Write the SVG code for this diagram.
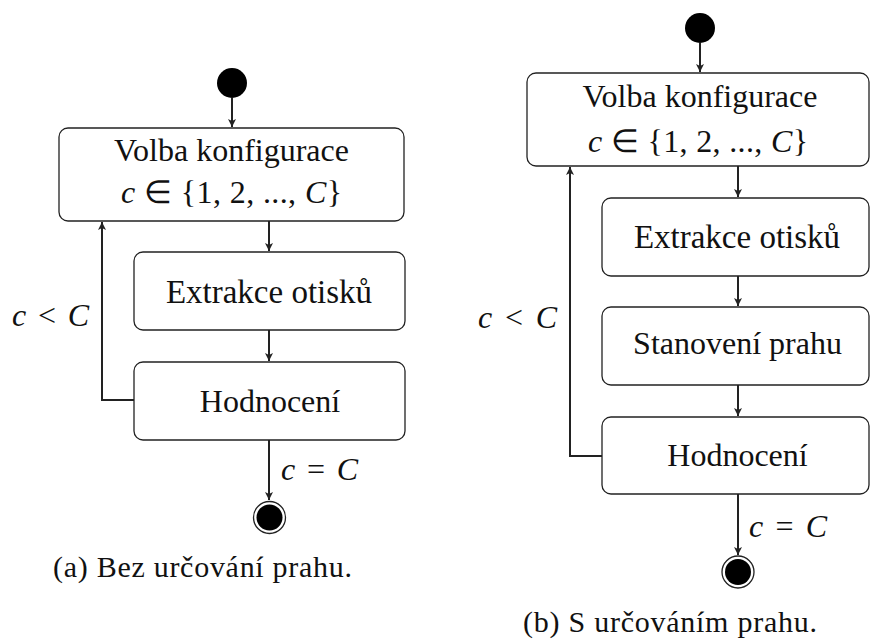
<svg xmlns="http://www.w3.org/2000/svg" width="871" height="639" viewBox="0 0 871 639" font-family="Liberation Serif">
<style>
.box{fill:#fff;stroke:#222;stroke-width:1.3}
.e{fill:none;stroke:#222;stroke-width:2}
</style>
<defs>
<marker id="ah" viewBox="0 0 10 10" refX="10" refY="5" markerWidth="8" markerHeight="8" markerUnits="userSpaceOnUse" orient="auto">
<path d="M0,0 L10,5 L0,10 L2.5,5 Z" fill="#222"/>
</marker>
</defs>
<g id="connectors">
<path class="e" d="M232,98 V127" marker-end="url(#ah)"/>
<path class="e" d="M269,221 V251" marker-end="url(#ah)"/>
<path class="e" d="M269,330 V361" marker-end="url(#ah)"/>
<path class="e" d="M134,400 H102 V222" marker-end="url(#ah)"/>
<path class="e" d="M269,440 V500" marker-end="url(#ah)"/>
<path class="e" d="M700,43 V72" marker-end="url(#ah)"/>
<path class="e" d="M738,166 V197" marker-end="url(#ah)"/>
<path class="e" d="M738,276 V306" marker-end="url(#ah)"/>
<path class="e" d="M738,385 V416" marker-end="url(#ah)"/>
<path class="e" d="M602,456 H570 V167" marker-end="url(#ah)"/>
<path class="e" d="M738,494 V555" marker-end="url(#ah)"/>
<text font-family="Liberation Serif" font-size="32" font-style="italic" fill="#111" x="12" y="326" textLength="77">c <tspan font-style="normal">&lt;</tspan> C</text>
<text font-family="Liberation Serif" font-size="32" font-style="italic" fill="#111" x="281" y="480" textLength="77">c <tspan font-style="normal">=</tspan> C</text>
<text font-family="Liberation Serif" font-size="32" font-style="italic" fill="#111" x="478" y="328" textLength="79">c <tspan font-style="normal">&lt;</tspan> C</text>
<text font-family="Liberation Serif" font-size="32" font-style="italic" fill="#111" x="749" y="537" textLength="78">c <tspan font-style="normal">=</tspan> C</text>
</g>
<g id="a-start"><circle cx="232" cy="83" r="15" fill="#000"/></g>
<g id="a-volba">
<rect class="box" x="59" y="128" width="345" height="93" rx="9"/>
<text font-family="Liberation Serif" font-size="32" fill="#111" text-anchor="middle" x="231.5" y="161">Volba konfigurace</text>
<text font-family="Liberation Serif" font-size="32" fill="#111" font-style="italic" x="121" y="203" textLength="221">c <tspan font-style="normal">∈ {1, 2, ..., </tspan>C<tspan font-style="normal">}</tspan></text>
</g>
<g id="a-extrakce">
<rect class="box" x="134" y="252" width="271" height="78" rx="9"/>
<text font-family="Liberation Serif" font-size="33" fill="#111" text-anchor="middle" x="269" y="303">Extrakce otisků</text>
</g>
<g id="a-hodnoceni">
<rect class="box" x="134" y="362" width="271" height="78" rx="9"/>
<text font-family="Liberation Serif" font-size="32" fill="#111" text-anchor="middle" x="270" y="412">Hodnocení</text>
</g>
<g id="a-end">
<circle cx="269.5" cy="517.5" r="16" fill="#fff" stroke="#222" stroke-width="1.3"/>
<circle cx="269.5" cy="517.5" r="13" fill="#000"/>
</g>
<g id="a-caption"><text font-family="Liberation Serif" font-size="30" fill="#111" text-anchor="middle" x="202.5" y="577" textLength="299">(a) Bez určování prahu.</text></g>

<g id="b-start"><circle cx="700" cy="28" r="15" fill="#000"/></g>
<g id="b-volba">
<rect class="box" x="527" y="73" width="342" height="93" rx="9"/>
<text font-family="Liberation Serif" font-size="32" fill="#111" text-anchor="middle" x="700" y="107">Volba konfigurace</text>
<text font-family="Liberation Serif" font-size="32" fill="#111" font-style="italic" x="588" y="152" textLength="220">c <tspan font-style="normal">∈ {1, 2, ..., </tspan>C<tspan font-style="normal">}</tspan></text>
</g>
<g id="b-extrakce">
<rect class="box" x="602" y="198" width="267" height="78" rx="9"/>
<text font-family="Liberation Serif" font-size="33" fill="#111" text-anchor="middle" x="737" y="248">Extrakce otisků</text>
</g>
<g id="b-stanoveni">
<rect class="box" x="602" y="307" width="267" height="78" rx="9"/>
<text font-family="Liberation Serif" font-size="32" fill="#111" text-anchor="middle" x="737.5" y="354">Stanovení prahu</text>
</g>
<g id="b-hodnoceni">
<rect class="box" x="602" y="417" width="267" height="77" rx="9"/>
<text font-family="Liberation Serif" font-size="32" fill="#111" text-anchor="middle" x="737.5" y="466">Hodnocení</text>
</g>
<g id="b-end">
<circle cx="738" cy="572" r="16" fill="#fff" stroke="#222" stroke-width="1.3"/>
<circle cx="738" cy="572" r="13" fill="#000"/>
</g>
<g id="b-caption"><text font-family="Liberation Serif" font-size="30" fill="#111" text-anchor="middle" x="670" y="632" textLength="294">(b) S určováním prahu.</text></g>
</svg>
